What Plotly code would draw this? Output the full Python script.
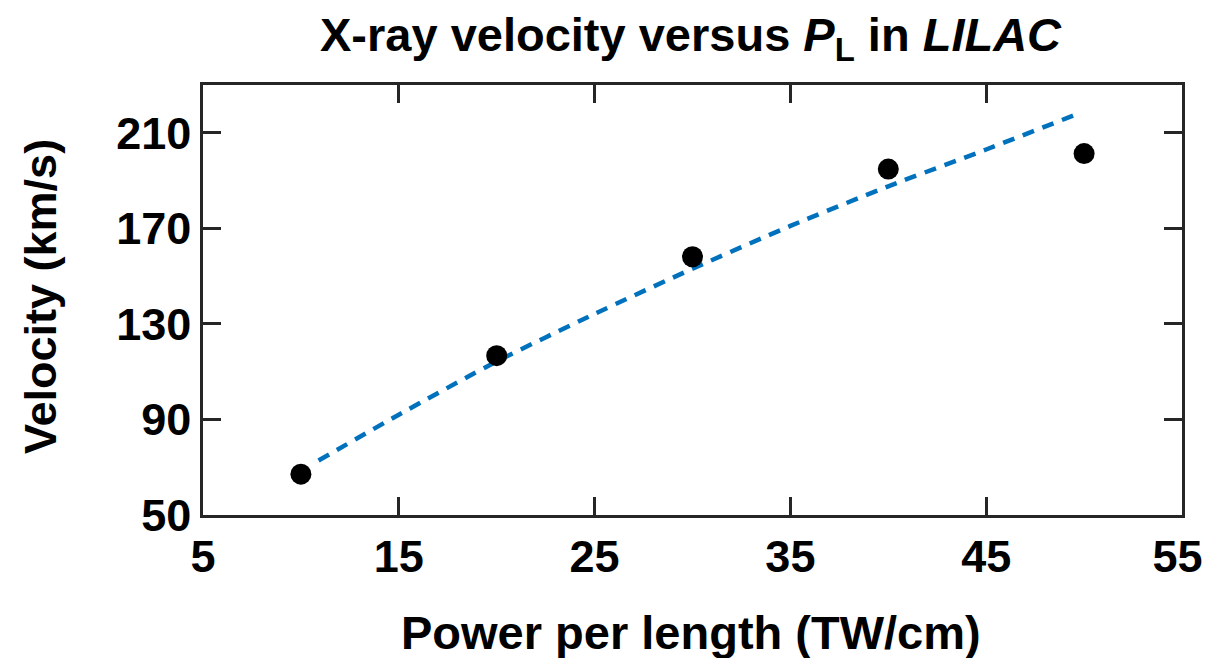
import plotly.graph_objects as go

# Measured data points
power = [10, 20, 30, 40, 50]
velocity = [67.1, 116.7, 158.1, 194.8, 201.3]

# Fit curve
fit_power = [10.9, 15, 20, 25, 30, 35, 40, 45, 49.7]
fit_velocity = [72.8, 92.0, 114.3, 134.2, 153.1, 171.0, 187.6, 203.0, 218.0]

x_ticks = [5, 15, 25, 35, 45, 55]
x_tick_labels = ["5", "15", "25", "35", "45", "55\u2009"]
y_ticks = [50, 90, 130, 170, 210]
y_tick_labels = ["50", "90", "130", "170", "210"]

FONT = "Liberation Sans, Arial, Helvetica, sans-serif"
AX = "#262626"

W, H = 1205, 658
L, R, T, B = 203, 23, 85, 143
PW, PH = W - L - R, H - T - B

fig = go.Figure()
fig.add_trace(go.Scatter(
    x=fit_power, y=fit_velocity, mode="lines",
    line=dict(color="#0072BD", width=4.5, dash="12px,9px", shape="spline", smoothing=0.6),
    showlegend=False, hoverinfo="skip"))
fig.add_trace(go.Scatter(
    x=power, y=velocity, mode="markers",
    marker=dict(color="black", size=21, line=dict(width=0)),
    showlegend=False))

axis_common = dict(
    showgrid=False, zeroline=False, showline=True, linecolor=AX, linewidth=2.5,
    mirror="ticks", ticks="inside", ticklen=18, tickwidth=2.5, tickcolor=AX,
    ticklabeloverflow="allow", automargin=False,
    tickfont=dict(family=FONT, size=45, color="black", weight="bold"),
)

fig.update_xaxes(range=[5, 55], tickvals=x_ticks, ticktext=x_tick_labels, **axis_common)
fig.update_yaxes(range=[50, 230], tickvals=y_ticks, ticktext=y_tick_labels, **axis_common)

fig.update_layout(
    width=W, height=H, autosize=False,
    margin=dict(l=L, r=R, t=T, b=B, autoexpand=False),
    paper_bgcolor="white", plot_bgcolor="white",
    annotations=[
        dict(text="<b>X-ray velocity versus <i>P</i><sub>L</sub> in <i>LILAC</i></b>",
             xref="paper", yref="paper", x=(691 - L) / PW, y=1 + (T - 38) / PH,
             xanchor="center", yanchor="middle", showarrow=False,
             font=dict(family=FONT, size=47, color="black")),
        dict(text="<b>Power per length (TW/cm)</b>", xref="paper", yref="paper",
             x=(691 - L) / PW, y=-(632 - (H - B)) / PH, xanchor="center", yanchor="middle",
             showarrow=False, font=dict(family=FONT, size=47, color="black")),
        dict(text="<b>Velocity (km/s)</b>", xref="paper", yref="paper",
             x=(40 - L) / PW, y=((H - B) - 297) / PH, xanchor="center", yanchor="middle",
             showarrow=False, textangle=-90, font=dict(family=FONT, size=45, color="black")),
    ],
)

fig.write_html(
    "out.html",
    config={"displayModeBar": False},
    post_script="document.body.style.margin='0';document.body.style.overflow='hidden';",
)
